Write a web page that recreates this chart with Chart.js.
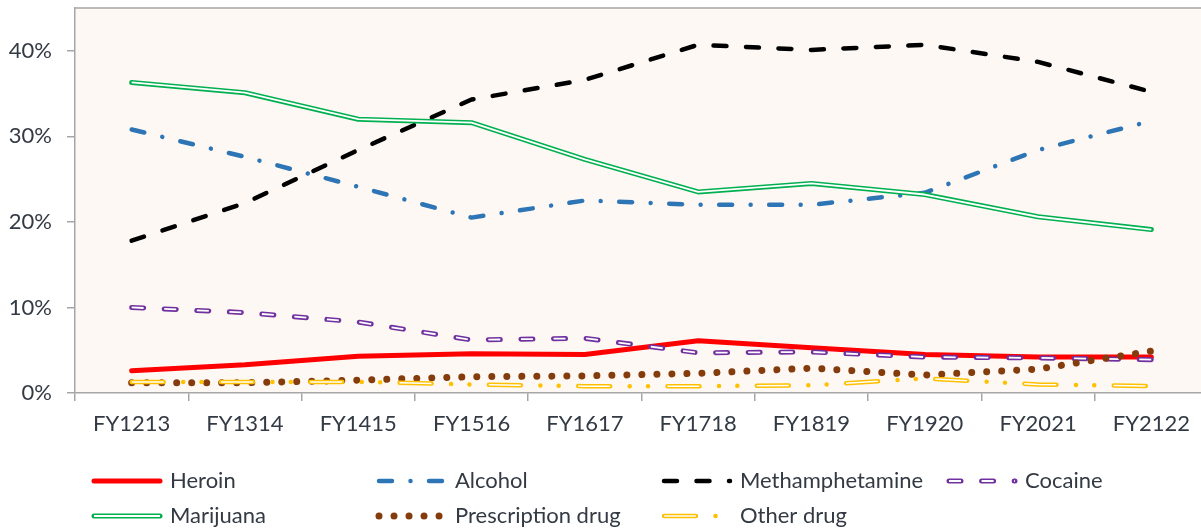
<!DOCTYPE html>
<html>
<head>
<meta charset="utf-8">
<script src="https://cdn.jsdelivr.net/npm/chart.js@4.4.1/dist/chart.umd.min.js"></script>
<style>
  html, body { margin: 0; padding: 0; background: #fff; overflow: hidden; }
  #wrap { width: 1208px; height: 529px; position: relative; }
</style>
</head>
<body>
<div id="wrap"><canvas id="drugchart"></canvas></div>
<script>
// values in percent
var categories = ['FY1213', 'FY1314', 'FY1415', 'FY1516', 'FY1617', 'FY1718', 'FY1819', 'FY1920', 'FY2021', 'FY2122']
var heroin = [2.6, 3.3, 4.3, 4.6, 4.5, 6.1, 5.3, 4.5, 4.2, 4.2]
var alcohol = [30.8, 27.6, 24.1, 20.5, 22.5, 22.0, 22.0, 23.4, 28.4, 31.8]
var meth = [17.8, 22.2, 28.4, 34.3, 36.6, 40.7, 40.1, 40.7, 38.7, 35.2]
var cocaine = [10.0, 9.4, 8.3, 6.2, 6.4, 4.7, 4.8, 4.2, 4.1, 3.9]
var marijuana = [36.3, 35.1, 32.0, 31.6, 27.3, 23.5, 24.5, 23.2, 20.6, 19.1]
var prescription = [1.2, 1.2, 1.5, 1.9, 2.0, 2.3, 2.9, 2.1, 2.8, 4.9]
var otherDrug = [1.3, 1.3, 1.3, 1.0, 0.8, 0.8, 0.9, 1.7, 1.0, 0.8]
var yTicks = [0, 10, 20, 30, 40]

var textColor = '#333a44'
var axisColor = '#a6a6a6'
var font = { family: 'Lato', size: 22 }

function line(label, data, color, width, dash, cap, order) {
  return {
    label: label,
    data: data,
    borderColor: color,
    backgroundColor: color,
    borderWidth: width,
    borderDash: dash,
    borderCapStyle: cap,
    borderJoinStyle: 'round',
    pointRadius: 0,
    tension: 0,
    fill: false,
    order: order
  }
}

// inner stroke that makes the "double" line look
function inner(label, data, width, dash, order) {
  var ds = line(label, data, '#ffffff', width, dash, 'butt', order)
  ds.isInner = true
  return ds
}

var datasets = [
  line('Heroin', heroin, '#ff0000', 5, [], 'round', 70),
  line('Alcohol', alcohol, '#2e75b6', 4.5, [13, 18.5, 0.01, 18.5], 'round', 60),
  line('Methamphetamine', meth, '#000000', 4.5, [13, 19.5], 'round', 50),
  line('Cocaine', cocaine, '#7030a0', 5, [12, 20.6], 'round', 40),
  inner('Cocaine', cocaine, 1.8, [12, 20.6], 39),
  line('Marijuana', marijuana, '#00b050', 5, [], 'round', 30),
  inner('Marijuana', marijuana, 1.8, [], 29),
  line('Prescription drug', prescription, '#843c0c', 7, [0.01, 15], 'round', 20),
  line('Other drug', otherDrug, '#ffc000', 4.5, [32, 19.5, 0.01, 18.3, 0.01, 19.5], 'round', 10),
  inner('Other drug', otherDrug, 1.5, [32, 57.3], 9)
]

// plot background + top border
var plotBg = {
  id: 'plotBg',
  beforeDraw: function(chart) {
    var a = chart.chartArea, ctx = chart.ctx
    ctx.save()
    ctx.fillStyle = '#fdf8f4'
    ctx.fillRect(a.left, a.top, a.right - a.left, a.bottom - a.top)
    ctx.strokeStyle = axisColor
    ctx.lineWidth = 1.5
    ctx.beginPath()
    ctx.moveTo(a.left, a.top)
    ctx.lineTo(a.right, a.top)
    ctx.stroke()
    ctx.restore()
  }
}

// legend laid out as a 4-column grid like the original
var gridLegend = {
  id: 'gridLegend',
  afterDraw: function(chart) {
    var ctx = chart.ctx
    var list = chart.data.datasets
    var items = list.filter(function(d) { return !d.isInner })
    ctx.save()
    items.forEach(function(ds, i) {
      var x = 92 + (i % 4) * 285
      var y = 481 + Math.floor(i / 4) * 35
      var strokes = [ds].concat(list.filter(function(d) { return d.isInner && d.label === ds.label }))
      strokes.forEach(function(s) {
        ctx.beginPath()
        ctx.strokeStyle = s.borderColor
        ctx.lineWidth = s.borderWidth
        ctx.lineCap = s.borderCapStyle
        ctx.setLineDash(s.borderDash)
        ctx.moveTo(x + 2, y)
        ctx.lineTo(x + 68, y)
        ctx.stroke()
      })
      ctx.setLineDash([])
      ctx.fillStyle = textColor
      ctx.font = font.size + 'px ' + font.family
      ctx.textBaseline = 'middle'
      ctx.textAlign = 'left'
      ctx.fillText(ds.label, x + 78, y)
    })
    ctx.restore()
  }
}

var myChart = new Chart(document.getElementById('drugchart'), {
  type: 'line',
  data: {
    labels: categories,
    datasets: datasets
  },
  options: {
    responsive: true,
    maintainAspectRatio: false,
    animation: false,
    layout: { padding: { top: 8, left: 0, right: 0, bottom: 0 } },
    plugins: {
      legend: { display: false },
      tooltip: { enabled: false }
    },
    scales: {
      x: {
        offset: true,
        grid: { offset: true, drawOnChartArea: false, tickLength: 8, color: axisColor, lineWidth: 1.5 },
        border: { color: axisColor, width: 1.5 },
        ticks: { padding: 10, font: font, color: textColor, maxRotation: 0, autoSkip: false },
        afterFit: function(s) {
          s.height = 136
          s.paddingLeft = 0
          s.paddingRight = 0
        }
      },
      y: {
        min: 0,
        max: 45,
        afterBuildTicks: function(s) { s.ticks = yTicks.map(function(v) { return { value: v } }) },
        grid: { drawOnChartArea: false, tickLength: 8, color: axisColor, lineWidth: 1.5 },
        border: { color: axisColor, width: 1.5 },
        ticks: { padding: 15, font: font, color: textColor, callback: function(v) { return v + '%' } },
        afterFit: function(s) {
          s.width = 75
          s.paddingTop = 0
          s.paddingBottom = 0
        }
      }
    }
  },
  plugins: [plotBg, gridLegend]
})
</script>
</body>
</html>
